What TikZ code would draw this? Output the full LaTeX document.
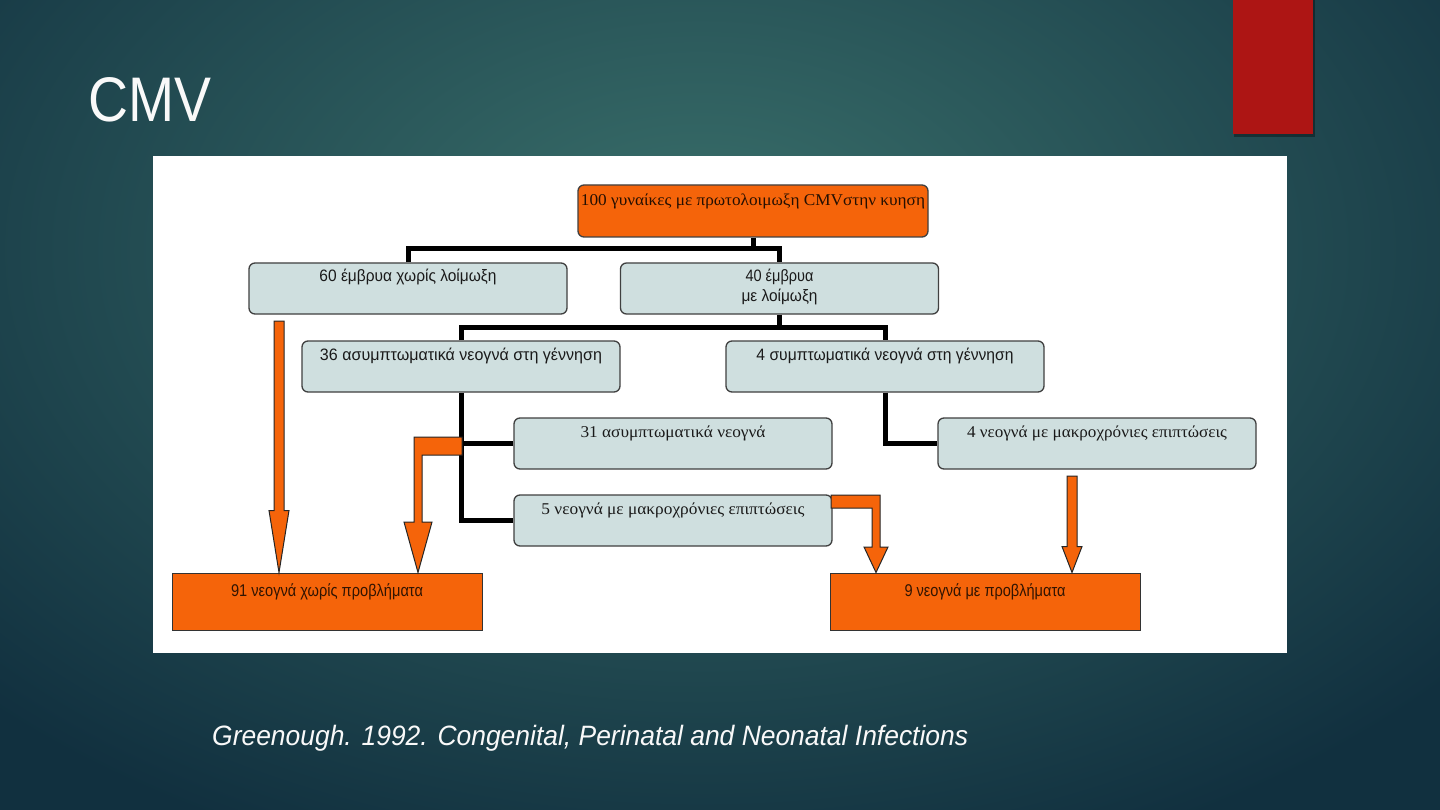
\documentclass[tikz,border=0pt]{standalone}
\usepackage{fontspec}
\usepackage{graphicx}
\setmainfont{Liberation Serif}
\newfontfamily\sansf{Liberation Sans}
\newfontfamily\serf{Liberation Serif}
\usetikzlibrary{calc}
\definecolor{orng}{HTML}{F5640A}
\definecolor{lbox}{HTML}{CFDFDF}
\definecolor{bgin}{HTML}{3A706B}
\definecolor{bgout}{HTML}{11303F}
\definecolor{redc}{HTML}{AD1514}
\definecolor{txtd}{HTML}{1A1A1A}
\newcommand\fitw[2]{\resizebox{#1pt}{\height}{#2}}
\newcommand\vblock[5]{%
  \draw[barrow] ($(#1)+(-#3,0)$) -- ($(#1)+(#3,0)$) -- ($(#2)+(#3,-#5)$) -- ($(#2)+(#4,-#5)$) -- (#2) -- ($(#2)+(-#4,-#5)$) -- ($(#2)+(-#3,-#5)$) -- cycle;}
\tikzset{
  bluebox/.style={draw=black!75, line width=1.3pt, fill=lbox, rounded corners=6pt,
    minimum width=318pt, inner sep=0pt, text height=19pt, text depth=32pt, text=txtd},
  topbox/.style={draw=black!75, line width=1.3pt, fill=orng, rounded corners=6pt,
    minimum width=350pt, inner sep=0pt, text height=21pt, text depth=31pt, text=black!85!orng},
  resbox/.style={draw=black!80, line width=1pt, fill=orng,
    minimum width=310pt, inner sep=0pt, text height=23pt, text depth=34pt, text=black!80!orng},
  conn/.style={line width=5pt, black},
  barrow/.style={fill=orng, draw=black!85, line width=1pt, line join=miter},
  sfs/.style={font=\sansf\fontsize{16.5}{20}\selectfont},
  srs/.style={font=\serf\fontsize{16.5}{20}\selectfont},
}
\begin{document}
\begin{tikzpicture}[x=1pt,y=-1pt]
\useasboundingbox (0,0) rectangle (1440,810);
% background
\fill[bgout] (0,0) rectangle (1440,810);
\begin{scope}
  \clip (0,0) rectangle (1440,810);
  \shade[inner color=bgin, outer color=bgout] (700,250) ellipse (1000 and 650);
\end{scope}
% red tab
\fill[black, opacity=0.35] (1234,0) rectangle (1315,137);
\fill[redc] (1233,0) rectangle (1313,134);
% title
\node[anchor=base west, inner sep=0pt, text=white!95!gray, font=\sansf\fontsize{63}{63}\selectfont] (title) at (88,122) {\fitw{123}{CMV}};
% panel
\fill[white] (153,156) rectangle (1287,653);
% boxes
\node[topbox, font=\serf\fontsize{16.5}{20}\selectfont] (ntop) at (753,211) {\fitw{344}{100 γυναίκες με πρωτολοιμωξη CMVστην κυηση}};
\node[bluebox, sfs] (n60) at (408,288.5) {\fitw{177}{60 έμβρυα χωρίς λοίμωξη}};
\node[bluebox, sfs] (n40) at (779.5,288.5) {\begin{tabular}[t]{@{}c@{}}\fitw{68}{40 έμβρυα}\\[0pt]\fitw{76}{με λοίμωξη}\end{tabular}};
\node[bluebox, sfs] (n36) at (461,366.5) {\fitw{282}{36 ασυμπτωματικά νεογνά στη γέννηση}};
\node[bluebox, sfs] (n4s) at (885,366.5) {\fitw{257}{4 συμπτωματικά νεογνά στη γέννηση}};
\node[bluebox, srs] (n31) at (673,443.5) {\fitw{185}{31 ασυμπτωματικά νεογνά}};
\node[bluebox, srs] (n5) at (673,520.5) {\fitw{263}{5 νεογνά με μακροχρόνιες επιπτώσεις}};
\node[bluebox, srs] (n4l) at (1097,443.5) {\fitw{260}{4 νεογνά με μακροχρόνιες επιπτώσεις}};
\node[resbox, font=\sansf\fontsize{17}{20}\selectfont] (n91) at (327,601.5) {\fitw{192}{91 νεογνά χωρίς προβλήματα}};
\node[resbox, font=\sansf\fontsize{17}{20}\selectfont] (n9) at (985,601.5) {\fitw{161}{9 νεογνά με προβλήματα}};
% black connectors
\coordinate (j1) at (753,249);
\coordinate (j2) at (779.5,327);
\draw[conn] (ntop.south) -- (ntop.south |- j1);
\draw[conn] (n60.north) |- (j1) -| (n40.north);
\draw[conn] (n40.south) -- (n40.south |- j2);
\draw[conn] (n36.north) |- (j2) -| (n4s.north);
\draw[conn] (n36.south) |- (n5.west);
\draw[conn] (n31.west) -- (n31.west -| n36.south);
\draw[conn] (n4s.south) |- (n4l.west);
% orange block arrows
\coordinate (a1) at (279,321);
\vblock{a1}{a1 |- n91.north}{5}{10}{62}
\coordinate (a4) at (1072,476);
\vblock{a4}{a4 |- n9.north}{5}{10}{26}
\draw[barrow] (462,437) -- (414,437) -- (414,522) -- (404,522) -- (418,572.5) -- (432,522) -- (422,522) -- (422,455) -- (462,455) -- cycle;
\draw[barrow] (831,495) -- (880,495) -- (880,547) -- (888,547) -- (876,572.5) -- (864,547) -- (872,547) -- (872,508) -- (831,508) -- cycle;
% citation
\node[anchor=base west, inner sep=0pt, text=white!95!gray, font=\sansf\itshape\fontsize{28}{28}\selectfont] (cite) at (212,745) {\fitw{756}{Greenough. 1992. Congenital, Perinatal and Neonatal Infections}};
\end{tikzpicture}
\end{document}
